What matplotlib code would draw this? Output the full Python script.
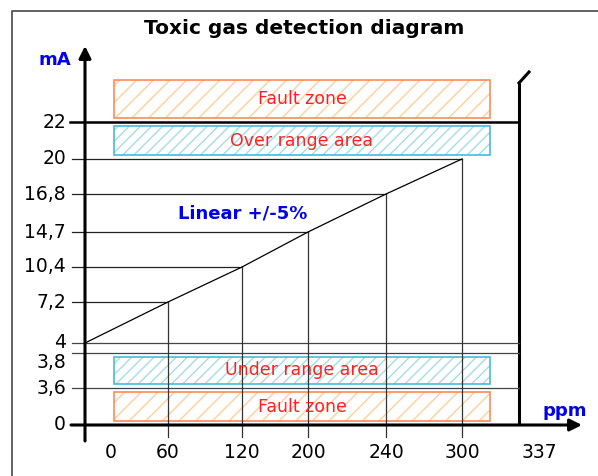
import numpy as np
import matplotlib.pyplot as plt
from matplotlib.patches import Rectangle
from matplotlib.transforms import Affine2D, blended_transform_factory

# data
ppm_ticks = [0, 60, 120, 200, 240, 300, 337]
ma_ticks = [0, 3.6, 3.8, 4, 7.2, 10.4, 14.7, 16.8, 20, 22]
ppm_pts = [0, 60, 120, 200, 240, 300]
ma_pts = [4, 7.2, 10.4, 14.7, 16.8, 20]
ppm_max = 337
zones = [('Fault zone', 22, 24.5, 'fault'),
         ('Over range area', 20, 22, 'range'),
         ('Under range area', 3.6, 3.8, 'range'),
         ('Fault zone', 0, 3.6, 'fault')]
zone_ppm = (21, 318)

# schematic (non linear) layout of the ticks, in pixels
W, H = 598, 476
ppm_px = [85, 168, 242, 308, 386, 462, 519]
ma_px = [425, 388, 353, 343, 302, 267, 232, 194, 159, 122]


def piecewise(xs, ys):
    xs = np.asarray(xs, float)
    ys = np.asarray(ys, float)
    s0 = (ys[1] - ys[0]) / (xs[1] - xs[0])
    s1 = (ys[-1] - ys[-2]) / (xs[-1] - xs[-2])

    def f(v):
        v = np.asarray(v, float)
        out = np.interp(v, xs, ys)
        out = np.where(v < xs[0], ys[0] + (v - xs[0]) * s0, out)
        out = np.where(v > xs[-1], ys[-1] + (v - xs[-1]) * s1, out)
        return out
    return f


x_fwd = piecewise(ppm_ticks, ppm_px)
x_inv = piecewise(ppm_px, ppm_ticks)
neg_ma_px = [-p for p in ma_px]
y_fwd = piecewise(ma_ticks, neg_ma_px)
y_inv = piecewise(neg_ma_px, ma_ticks)

fig = plt.figure(figsize=(W / 100, H / 100), dpi=100)
ax = fig.add_axes([0, 0, 1, 1])
ax.set_xscale('function', functions=(x_fwd, x_inv))
ax.set_yscale('function', functions=(y_fwd, y_inv))
ax.set_xlim(float(x_inv(0)), float(x_inv(W)))
ax.set_ylim(float(y_inv(-H)), float(y_inv(0)))
ax.axis('off')

PX = Affine2D().scale(1 / W, -1 / H).translate(0, 1) + fig.transFigure
xdata_ypx = blended_transform_factory(ax.transData, PX)
xpx_ydata = blended_transform_factory(PX, ax.transData)

# outer frame
ax.plot([12, 12, W], [H, 11, 11], color='#555555', lw=1.3, transform=PX,
        clip_on=False)
ax.text(304, 28, 'Toxic gas detection diagram', transform=PX, ha='center',
        va='center', fontsize=14.5, fontweight='bold')

# axes with arrows
ax.annotate('', xy=(0, 46), xytext=(0, 441), xycoords=xdata_ypx,
            textcoords=xdata_ypx,
            arrowprops=dict(arrowstyle='-|>', lw=2.2, color='black',
                            mutation_scale=18, shrinkA=0, shrinkB=0))
ax.annotate('', xy=(582, 0), xytext=(71, 0), xycoords=xpx_ydata,
            textcoords=xpx_ydata,
            arrowprops=dict(arrowstyle='-|>', lw=2.2, color='black',
                            mutation_scale=18, shrinkA=0, shrinkB=0))
ax.text(55, 60, 'mA', transform=PX, ha='center', va='center',
        fontsize=13, fontweight='bold', color='#0000ee')
ax.text(565, 411, 'ppm', transform=PX, ha='center', va='center',
        fontsize=13, fontweight='bold', color='#0000ee')

# max range wall
wall_top = 83
ax.plot([ppm_max, ppm_max], [425, wall_top], color='black', lw=2.2,
        transform=xdata_ypx, solid_capstyle='butt')
ax.plot([519, 529], [wall_top, 72], color='black', lw=2.2, transform=PX)

# limit lines
ax.plot([70, x_fwd(ppm_max)], [22, 22], color='black', lw=1.8,
        transform=xpx_ydata)
for v in (4, 3.8, 3.6):
    ax.plot([72, x_fwd(ppm_max)], [v, v], color='#444444', lw=0.9,
            transform=xpx_ydata)

# guide lines from the axes to the linear curve
for p, m in zip(ppm_pts[1:], ma_pts[1:]):
    ax.plot([72, x_fwd(p)], [m, m], color='#222222', lw=0.9,
            transform=xpx_ydata)
    ax.plot([p, p], [437, -y_fwd(m)], color='#333333', lw=0.9,
            transform=xdata_ypx)

ax.plot(ppm_pts, ma_pts, color='black', lw=0.9)
ax.text(243, 214, 'Linear +/-5%', transform=PX, ha='center', va='center',
        fontsize=13, fontweight='bold', color='#0000ee')

# zones
styles = {'fault': ('#ff8a5c', '#ffcf9c', '//'),
          'range': ('#45bcd8', '#a6dbea', '///')}
for label, lo, hi, kind in zones:
    edge, hcol, hatch = styles[kind]
    y0 = float(y_inv(y_fwd(lo) + 4))
    y1 = float(y_inv(y_fwd(hi) - 4))
    ax.add_patch(Rectangle((zone_ppm[0], y0), zone_ppm[1] - zone_ppm[0],
                           y1 - y0, facecolor='white', edgecolor=hcol,
                           hatch=hatch, lw=0))
    ax.add_patch(Rectangle((zone_ppm[0], y0), zone_ppm[1] - zone_ppm[0],
                           y1 - y0, facecolor='none', edgecolor=edge,
                           lw=1.2))
    ax.text(float(x_inv(302)), float(y_inv((y_fwd(lo) + y_fwd(hi)) / 2)),
            label, ha='center', va='center', fontsize=12.5,
            color='#ff2020')

# tick labels
y_shift = {3.8: 10}
for v in ma_ticks:
    txt = ('%g' % v).replace('.', ',')
    ax.annotate(txt, xy=(66, v), xycoords=xpx_ydata,
                xytext=(0, -y_shift.get(v, 0)), textcoords='offset pixels',
                ha='right', va='center', fontsize=13.5)
x_shift = {0: 26, 337: 20}
for p in ppm_ticks:
    ax.annotate(str(p), xy=(p, 452), xycoords=xdata_ypx,
                xytext=(x_shift.get(p, 0), 0), textcoords='offset pixels',
                ha='center', va='center', fontsize=13.5)

fig.savefig('out.png', dpi=100)
